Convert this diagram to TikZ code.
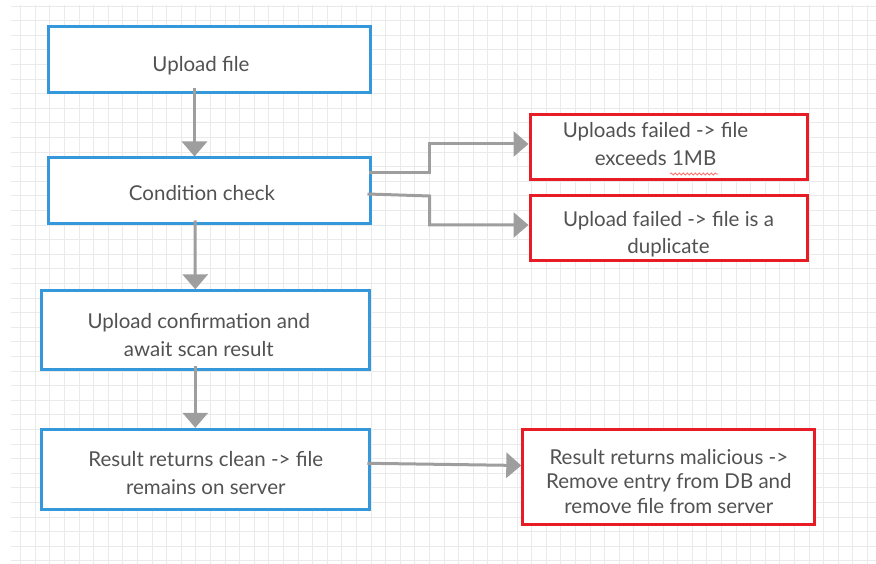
\documentclass[tikz,border=0pt]{standalone}
\usepackage{fontspec}
\setmainfont{Lato}
\usetikzlibrary{arrows.meta,calc,decorations.pathmorphing}
\definecolor{boxblue}{RGB}{52,152,219}
\definecolor{boxred}{RGB}{232,28,36}
\definecolor{linkgray}{RGB}{158,158,158}
\definecolor{txtgray}{RGB}{82,82,82}
\definecolor{gridgray}{RGB}{234,234,234}
% extra head room above the first line (pushes the text block down by half of it)
\newcommand\headroom[1]{\raisebox{#1}{\vphantom{lf}}}
% extra room below the last line (pushes the text block up by half of it)
\newcommand\footroom[1]{\raisebox{-#1}{\vphantom{gp}}}
\begin{document}
\begin{tikzpicture}[x=1pt,y=-1pt,
  stepbox/.style={draw=boxblue, line width=3pt, fill=white, align=center,
    text=txtgray, font=\fontsize{20.5}{27.5}\selectfont, inner sep=0pt},
  failbox/.style={stepbox, draw=boxred},
  link/.style={draw=linkgray, line width=3pt,
    -{Triangle[width=25pt,length=15pt]}},
]
\useasboundingbox (0,0) rectangle (876,564);

% background grid
\begin{scope}
  \clip (11,5) rectangle (876,564);
  \foreach \i in {0,...,59}
    \draw[gridgray, line width=1pt] (6.1+14.6*\i,5) -- ++(0,559);
  \foreach \i in {0,...,38}
    \draw[gridgray, line width=1pt] (11,6.1+14.6*\i) -- ++(865,0);
\end{scope}

% process steps
\node[stepbox, minimum width=322pt, minimum height=66pt] (b1) at (209,60)
  {\headroom{12pt}Upload file\hspace*{16pt}};
\node[stepbox, minimum width=322pt, minimum height=66pt] (b2) at (209,191)
  {\headroom{4pt}Condition check\hspace*{14pt}};
\node[stepbox, minimum width=328pt, minimum height=79pt] (b3) at (205.8,330.3)
  {\headroom{9pt}Upload confirmation and\hspace*{14pt}\\await scan result\hspace*{14pt}};
\node[stepbox, minimum width=328pt, minimum height=80pt] (b4) at (205.8,469.3)
  {\headroom{7pt}Result returns clean -> file\\remains on server};

% failure outcomes
\node[failbox, minimum width=277pt, minimum height=65pt] (r1) at (668.5,147.5)
  {Uploads failed -> file\hspace*{26pt}\\exceeds 1MB\hspace*{26pt}\footroom{3pt}};
\node[failbox, minimum width=277pt, minimum height=65pt] (r2) at (668.5,228.4)
  {\headroom{12pt}Upload failed -> file is a\\duplicate};
\node[failbox, minimum width=292pt, minimum height=95pt,
  font=\fontsize{20.5}{24.5}\selectfont] (r3) at (668.8,476.5)
  {\headroom{10pt}Result returns malicious ->\\Remove entry from DB and\\remove file from server};

% spell-check squiggle under "1MB"
\draw[red!55, line width=0.8pt,
  decorate, decoration={snake, amplitude=1pt, segment length=4pt}]
  ($(r1.center)+(1.5,26.5)$) -- ($(r1.center)+(49.5,26.5)$);

% connectors
\draw[link] ($(b1.south)+(-14.5,-6)$) -- ($(b2.north)+(-14.5,0)$);
\draw[link] ($(b2.south)+(-14,-5)$) -- ($(b3.north)+(-10.5,0)$);
\draw[link] ($(b3.south)+(-10.5,-5)$) -- ($(b4.north)+(-10.5,0)$);
\draw[link] ($(b2.east)+(-3,-18)$) -- ++(61,0) |- ($(r1.west)+(0,-3.5)$);
\draw[link] ($(b2.east)+(-4,3)$) -- ++(62,2) |- ($(r2.west)+(0,-3.4)$);
\draw[link] ($(b4.east)+(-4,-6)$) -- ($(r3.west)+(0,-11)$);
\end{tikzpicture}
\end{document}
